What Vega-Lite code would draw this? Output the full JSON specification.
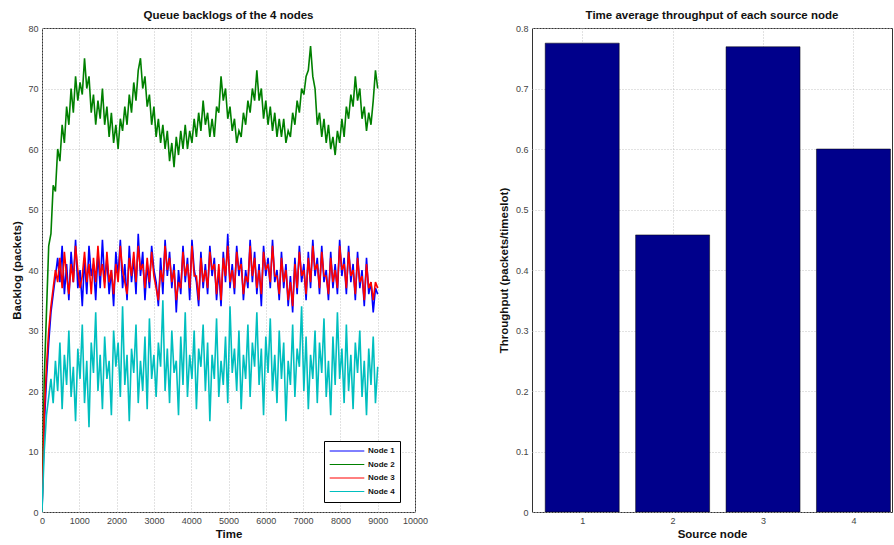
{
  "$schema": "https://vega.github.io/schema/vega-lite/v6.json",
  "padding": {"left": 10, "top": 9, "right": 0, "bottom": 0},
  "background": "#ffffff",
  "config": {
    "font": "Liberation Sans",
    "view": {"stroke": "#333333", "strokeWidth": 1},
    "axis": {
      "labelFontSize": 9,
      "labelColor": "#444444",
      "titleFontSize": 11.5,
      "titleFontWeight": "bold",
      "titleColor": "#111111",
      "gridColor": "#c4c4c4",
      "gridDash": [1, 2],
      "domain": false,
      "ticks": false,
      "labelPadding": 4
    },
    "axisX": {"titlePadding": 3, "labelFlush": false},
    "title": {"fontSize": 11.5, "fontWeight": "bold", "color": "#111111", "offset": 3, "anchor": "middle"}
  },
  "datasets": {
    "backlog": [
      {"t":0,"Node 1":0,"Node 2":0,"Node 3":0,"Node 4":0},
      {"t":60,"Node 1":14,"Node 2":22,"Node 3":16,"Node 4":10},
      {"t":120,"Node 1":22,"Node 2":33,"Node 3":24,"Node 4":16},
      {"t":180,"Node 1":28,"Node 2":44,"Node 3":30,"Node 4":19},
      {"t":240,"Node 1":33,"Node 2":46,"Node 3":34,"Node 4":22},
      {"t":300,"Node 1":36,"Node 2":54,"Node 3":37,"Node 4":18},
      {"t":360,"Node 1":39,"Node 2":53,"Node 3":40,"Node 4":25},
      {"t":420,"Node 1":42,"Node 2":60,"Node 3":38,"Node 4":20},
      {"t":480,"Node 1":38,"Node 2":58,"Node 3":42,"Node 4":28},
      {"t":540,"Node 1":44,"Node 2":64,"Node 3":37,"Node 4":17},
      {"t":600,"Node 1":36,"Node 2":61,"Node 3":43,"Node 4":26},
      {"t":660,"Node 1":41,"Node 2":67,"Node 3":39,"Node 4":21},
      {"t":720,"Node 1":35,"Node 2":64,"Node 3":36,"Node 4":30},
      {"t":780,"Node 1":43,"Node 2":70,"Node 3":41,"Node 4":19},
      {"t":840,"Node 1":38,"Node 2":66,"Node 3":38,"Node 4":24},
      {"t":900,"Node 1":45,"Node 2":72,"Node 3":44,"Node 4":15},
      {"t":960,"Node 1":37,"Node 2":68,"Node 3":40,"Node 4":27},
      {"t":1020,"Node 1":40,"Node 2":71,"Node 3":37,"Node 4":22},
      {"t":1080,"Node 1":34,"Node 2":69,"Node 3":39,"Node 4":31},
      {"t":1140,"Node 1":42,"Node 2":75,"Node 3":43,"Node 4":18},
      {"t":1200,"Node 1":36,"Node 2":70,"Node 3":38,"Node 4":25},
      {"t":1260,"Node 1":44,"Node 2":72,"Node 3":41,"Node 4":14},
      {"t":1320,"Node 1":39,"Node 2":66,"Node 3":36,"Node 4":28},
      {"t":1380,"Node 1":41,"Node 2":69,"Node 3":42,"Node 4":23},
      {"t":1440,"Node 1":35,"Node 2":64,"Node 3":38,"Node 4":33},
      {"t":1500,"Node 1":43,"Node 2":68,"Node 3":44,"Node 4":20},
      {"t":1560,"Node 1":37,"Node 2":65,"Node 3":39,"Node 4":26},
      {"t":1620,"Node 1":45,"Node 2":70,"Node 3":41,"Node 4":17},
      {"t":1680,"Node 1":38,"Node 2":64,"Node 3":37,"Node 4":29},
      {"t":1740,"Node 1":42,"Node 2":67,"Node 3":43,"Node 4":22},
      {"t":1800,"Node 1":36,"Node 2":62,"Node 3":38,"Node 4":25},
      {"t":1860,"Node 1":40,"Node 2":66,"Node 3":40,"Node 4":16},
      {"t":1920,"Node 1":34,"Node 2":61,"Node 3":36,"Node 4":30},
      {"t":1980,"Node 1":43,"Node 2":64,"Node 3":41,"Node 4":24},
      {"t":2040,"Node 1":39,"Node 2":60,"Node 3":38,"Node 4":28},
      {"t":2100,"Node 1":45,"Node 2":65,"Node 3":44,"Node 4":19},
      {"t":2160,"Node 1":37,"Node 2":63,"Node 3":40,"Node 4":34},
      {"t":2220,"Node 1":41,"Node 2":67,"Node 3":38,"Node 4":21},
      {"t":2280,"Node 1":35,"Node 2":64,"Node 3":36,"Node 4":26},
      {"t":2340,"Node 1":44,"Node 2":69,"Node 3":42,"Node 4":15},
      {"t":2400,"Node 1":38,"Node 2":66,"Node 3":39,"Node 4":27},
      {"t":2460,"Node 1":42,"Node 2":71,"Node 3":43,"Node 4":23},
      {"t":2520,"Node 1":36,"Node 2":68,"Node 3":38,"Node 4":31},
      {"t":2580,"Node 1":46,"Node 2":73,"Node 3":44,"Node 4":18},
      {"t":2640,"Node 1":39,"Node 2":75,"Node 3":40,"Node 4":25},
      {"t":2700,"Node 1":43,"Node 2":70,"Node 3":41,"Node 4":20},
      {"t":2760,"Node 1":35,"Node 2":72,"Node 3":37,"Node 4":29},
      {"t":2820,"Node 1":41,"Node 2":67,"Node 3":42,"Node 4":17},
      {"t":2880,"Node 1":37,"Node 2":69,"Node 3":38,"Node 4":32},
      {"t":2940,"Node 1":44,"Node 2":64,"Node 3":43,"Node 4":22},
      {"t":3000,"Node 1":40,"Node 2":67,"Node 3":39,"Node 4":26},
      {"t":3060,"Node 1":38,"Node 2":62,"Node 3":37,"Node 4":19},
      {"t":3120,"Node 1":34,"Node 2":65,"Node 3":35,"Node 4":28},
      {"t":3180,"Node 1":42,"Node 2":61,"Node 3":40,"Node 4":24},
      {"t":3240,"Node 1":36,"Node 2":64,"Node 3":38,"Node 4":35},
      {"t":3300,"Node 1":45,"Node 2":60,"Node 3":44,"Node 4":20},
      {"t":3360,"Node 1":39,"Node 2":63,"Node 3":40,"Node 4":27},
      {"t":3420,"Node 1":43,"Node 2":58,"Node 3":42,"Node 4":18},
      {"t":3480,"Node 1":37,"Node 2":61,"Node 3":38,"Node 4":30},
      {"t":3540,"Node 1":41,"Node 2":57,"Node 3":40,"Node 4":23},
      {"t":3600,"Node 1":33,"Node 2":62,"Node 3":35,"Node 4":25},
      {"t":3660,"Node 1":40,"Node 2":59,"Node 3":38,"Node 4":16},
      {"t":3720,"Node 1":36,"Node 2":63,"Node 3":37,"Node 4":29},
      {"t":3780,"Node 1":44,"Node 2":60,"Node 3":43,"Node 4":21},
      {"t":3840,"Node 1":38,"Node 2":64,"Node 3":39,"Node 4":33},
      {"t":3900,"Node 1":42,"Node 2":60,"Node 3":41,"Node 4":19},
      {"t":3960,"Node 1":35,"Node 2":63,"Node 3":37,"Node 4":26},
      {"t":4020,"Node 1":45,"Node 2":61,"Node 3":44,"Node 4":22},
      {"t":4080,"Node 1":40,"Node 2":65,"Node 3":39,"Node 4":30},
      {"t":4140,"Node 1":38,"Node 2":62,"Node 3":39,"Node 4":17},
      {"t":4200,"Node 1":34,"Node 2":66,"Node 3":35,"Node 4":27},
      {"t":4260,"Node 1":43,"Node 2":63,"Node 3":42,"Node 4":24},
      {"t":4320,"Node 1":37,"Node 2":68,"Node 3":38,"Node 4":31},
      {"t":4380,"Node 1":41,"Node 2":64,"Node 3":40,"Node 4":20},
      {"t":4440,"Node 1":36,"Node 2":66,"Node 3":37,"Node 4":28},
      {"t":4500,"Node 1":44,"Node 2":62,"Node 3":43,"Node 4":15},
      {"t":4560,"Node 1":39,"Node 2":65,"Node 3":40,"Node 4":26},
      {"t":4620,"Node 1":42,"Node 2":62,"Node 3":41,"Node 4":22},
      {"t":4680,"Node 1":35,"Node 2":67,"Node 3":36,"Node 4":32},
      {"t":4740,"Node 1":40,"Node 2":66,"Node 3":41,"Node 4":19},
      {"t":4800,"Node 1":34,"Node 2":72,"Node 3":35,"Node 4":25},
      {"t":4860,"Node 1":43,"Node 2":68,"Node 3":42,"Node 4":21},
      {"t":4920,"Node 1":38,"Node 2":70,"Node 3":39,"Node 4":29},
      {"t":4980,"Node 1":46,"Node 2":65,"Node 3":44,"Node 4":18},
      {"t":5040,"Node 1":37,"Node 2":67,"Node 3":38,"Node 4":34},
      {"t":5100,"Node 1":41,"Node 2":63,"Node 3":40,"Node 4":23},
      {"t":5160,"Node 1":36,"Node 2":65,"Node 3":37,"Node 4":27},
      {"t":5220,"Node 1":44,"Node 2":61,"Node 3":43,"Node 4":20},
      {"t":5280,"Node 1":39,"Node 2":63,"Node 3":40,"Node 4":30},
      {"t":5340,"Node 1":42,"Node 2":62,"Node 3":41,"Node 4":17},
      {"t":5400,"Node 1":35,"Node 2":66,"Node 3":36,"Node 4":26},
      {"t":5460,"Node 1":40,"Node 2":64,"Node 3":39,"Node 4":22},
      {"t":5520,"Node 1":37,"Node 2":68,"Node 3":38,"Node 4":31},
      {"t":5580,"Node 1":45,"Node 2":66,"Node 3":44,"Node 4":19},
      {"t":5640,"Node 1":38,"Node 2":70,"Node 3":39,"Node 4":28},
      {"t":5700,"Node 1":43,"Node 2":68,"Node 3":42,"Node 4":24},
      {"t":5760,"Node 1":36,"Node 2":73,"Node 3":37,"Node 4":33},
      {"t":5820,"Node 1":41,"Node 2":68,"Node 3":40,"Node 4":21},
      {"t":5880,"Node 1":34,"Node 2":70,"Node 3":36,"Node 4":27},
      {"t":5940,"Node 1":44,"Node 2":65,"Node 3":43,"Node 4":16},
      {"t":6000,"Node 1":39,"Node 2":68,"Node 3":40,"Node 4":29},
      {"t":6060,"Node 1":42,"Node 2":64,"Node 3":41,"Node 4":23},
      {"t":6120,"Node 1":37,"Node 2":67,"Node 3":38,"Node 4":32},
      {"t":6180,"Node 1":45,"Node 2":63,"Node 3":44,"Node 4":20},
      {"t":6240,"Node 1":38,"Node 2":66,"Node 3":39,"Node 4":26},
      {"t":6300,"Node 1":40,"Node 2":62,"Node 3":39,"Node 4":18},
      {"t":6360,"Node 1":35,"Node 2":65,"Node 3":36,"Node 4":30},
      {"t":6420,"Node 1":43,"Node 2":62,"Node 3":42,"Node 4":22},
      {"t":6480,"Node 1":37,"Node 2":65,"Node 3":38,"Node 4":28},
      {"t":6540,"Node 1":41,"Node 2":61,"Node 3":40,"Node 4":15},
      {"t":6600,"Node 1":34,"Node 2":63,"Node 3":35,"Node 4":25},
      {"t":6660,"Node 1":39,"Node 2":62,"Node 3":38,"Node 4":21},
      {"t":6720,"Node 1":33,"Node 2":66,"Node 3":34,"Node 4":31},
      {"t":6780,"Node 1":42,"Node 2":64,"Node 3":41,"Node 4":19},
      {"t":6840,"Node 1":36,"Node 2":68,"Node 3":37,"Node 4":27},
      {"t":6900,"Node 1":44,"Node 2":66,"Node 3":43,"Node 4":24},
      {"t":6960,"Node 1":38,"Node 2":70,"Node 3":39,"Node 4":34},
      {"t":7020,"Node 1":41,"Node 2":69,"Node 3":40,"Node 4":20},
      {"t":7080,"Node 1":35,"Node 2":72,"Node 3":36,"Node 4":29},
      {"t":7140,"Node 1":43,"Node 2":73,"Node 3":42,"Node 4":17},
      {"t":7200,"Node 1":37,"Node 2":77,"Node 3":38,"Node 4":26},
      {"t":7260,"Node 1":45,"Node 2":72,"Node 3":44,"Node 4":22},
      {"t":7320,"Node 1":39,"Node 2":70,"Node 3":40,"Node 4":30},
      {"t":7380,"Node 1":42,"Node 2":64,"Node 3":41,"Node 4":18},
      {"t":7440,"Node 1":36,"Node 2":66,"Node 3":37,"Node 4":28},
      {"t":7500,"Node 1":44,"Node 2":62,"Node 3":43,"Node 4":23},
      {"t":7560,"Node 1":38,"Node 2":65,"Node 3":39,"Node 4":32},
      {"t":7620,"Node 1":40,"Node 2":61,"Node 3":39,"Node 4":19},
      {"t":7680,"Node 1":35,"Node 2":64,"Node 3":36,"Node 4":25},
      {"t":7740,"Node 1":43,"Node 2":60,"Node 3":42,"Node 4":16},
      {"t":7800,"Node 1":37,"Node 2":62,"Node 3":38,"Node 4":29},
      {"t":7860,"Node 1":41,"Node 2":59,"Node 3":40,"Node 4":21},
      {"t":7920,"Node 1":36,"Node 2":63,"Node 3":37,"Node 4":33},
      {"t":7980,"Node 1":45,"Node 2":61,"Node 3":44,"Node 4":22},
      {"t":8040,"Node 1":39,"Node 2":65,"Node 3":40,"Node 4":27},
      {"t":8100,"Node 1":42,"Node 2":62,"Node 3":41,"Node 4":18},
      {"t":8160,"Node 1":36,"Node 2":67,"Node 3":37,"Node 4":31},
      {"t":8220,"Node 1":44,"Node 2":65,"Node 3":43,"Node 4":20},
      {"t":8280,"Node 1":38,"Node 2":69,"Node 3":39,"Node 4":26},
      {"t":8340,"Node 1":41,"Node 2":67,"Node 3":40,"Node 4":17},
      {"t":8400,"Node 1":35,"Node 2":72,"Node 3":36,"Node 4":28},
      {"t":8460,"Node 1":43,"Node 2":68,"Node 3":42,"Node 4":23},
      {"t":8520,"Node 1":37,"Node 2":70,"Node 3":38,"Node 4":30},
      {"t":8580,"Node 1":40,"Node 2":65,"Node 3":39,"Node 4":19},
      {"t":8640,"Node 1":34,"Node 2":67,"Node 3":35,"Node 4":25},
      {"t":8700,"Node 1":42,"Node 2":63,"Node 3":41,"Node 4":16},
      {"t":8760,"Node 1":36,"Node 2":66,"Node 3":37,"Node 4":27},
      {"t":8820,"Node 1":38,"Node 2":64,"Node 3":38,"Node 4":21},
      {"t":8880,"Node 1":33,"Node 2":68,"Node 3":35,"Node 4":29},
      {"t":8940,"Node 1":37,"Node 2":73,"Node 3":38,"Node 4":18},
      {"t":9000,"Node 1":36,"Node 2":70,"Node 3":37,"Node 4":24}
    ],
    "throughput": [
      {"node": 1, "throughput": 0.775},
      {"node": 2, "throughput": 0.458},
      {"node": 3, "throughput": 0.769},
      {"node": 4, "throughput": 0.600}
    ]
  },
  "spacing": 117,
  "bounds": "flush",
  "hconcat": [
    {
      "width": 373,
      "height": 484,
      "title": "Queue backlogs of the 4 nodes",
      "data": {"name": "backlog"},
      "transform": [{"fold": ["Node 1", "Node 2", "Node 3", "Node 4"], "as": ["node", "backlog"]}],
      "mark": {"type": "line", "strokeWidth": 1.6, "clip": true},
      "encoding": {
        "x": {
          "field": "t", "type": "quantitative",
          "scale": {"domain": [0, 10000], "nice": false},
          "axis": {"title": "Time", "values": [0,1000,2000,3000,4000,5000,6000,7000,8000,9000,10000], "format": "d"}
        },
        "y": {
          "field": "backlog", "type": "quantitative",
          "scale": {"domain": [0, 80], "nice": false},
          "axis": {"title": "Backlog (packets)", "values": [0,10,20,30,40,50,60,70,80], "minExtent": 14, "maxExtent": 14, "titlePadding": 6}
        },
        "color": {
          "field": "node", "type": "nominal",
          "scale": {"domain": ["Node 1", "Node 2", "Node 3", "Node 4"], "range": ["#0000ff", "#008000", "#ff0000", "#00bfbf"]},
          "legend": {
            "title": null, "orient": "none", "legendX": 282, "legendY": 413, "direction": "vertical",
            "symbolType": "stroke", "symbolSize": 1200, "symbolStrokeWidth": 1,
            "clipHeight": 10, "rowPadding": 3.5,
            "labelFontSize": 8, "labelFontWeight": "bold", "labelColor": "#111111",
            "strokeColor": "#000000", "fillColor": "#ffffff", "padding": 5, "labelOffset": 3
          }
        }
      }
    },
    {
      "width": 360,
      "height": 484,
      "title": "Time average throughput of each source node",
      "data": {"name": "throughput"},
      "mark": {"type": "bar", "width": 74, "color": "#00008b", "stroke": "#000000", "strokeWidth": 0.5, "clip": true},
      "encoding": {
        "x": {
          "field": "node", "type": "quantitative",
          "scale": {"domain": [0.5, 4.371], "nice": false, "zero": false},
          "axis": {"title": "Source node", "values": [1, 2, 3, 4], "format": "d"}
        },
        "y": {
          "field": "throughput", "type": "quantitative",
          "scale": {"domain": [0, 0.8], "nice": false},
          "axis": {"title": "Throughput (packets/timeslot)", "values": [0,0.1,0.2,0.3,0.4,0.5,0.6,0.7,0.8], "format": "~g", "minExtent": 16, "maxExtent": 16, "titlePadding": 7}
        }
      }
    }
  ]
}
